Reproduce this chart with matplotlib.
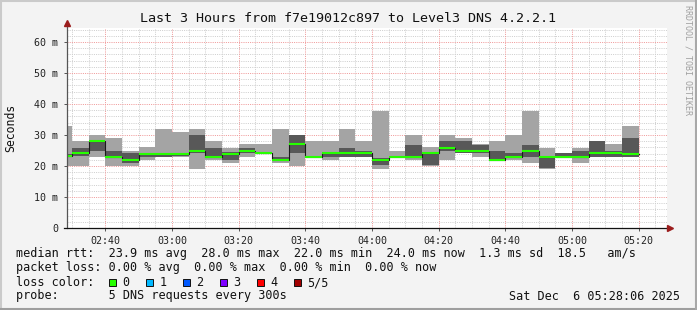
import matplotlib.pyplot as plt
import numpy as np
from matplotlib.patches import Rectangle

# ---- data (ms), one entry per 5 min step, first step is 02:25-02:30 ----
slot_start = np.arange(25, 200, 5)     # minutes after 02:00
ping_lo  = [20.0, 20.0, 23.0, 20.0, 20.0, 21.9, 23.0, 23.0, 19.0, 21.9, 21.1, 23.0, 23.9, 21.1, 20.0, 23.0, 21.9, 23.0,
            23.0, 19.0, 23.0, 21.9, 20.0, 21.9, 24.1, 23.0, 21.9, 21.9, 21.1, 19.0, 23.0, 21.1, 23.0, 23.0, 23.0]
ping_hi  = [32.9, 28.1, 30.0, 29.0, 24.8, 26.2, 31.9, 31.0, 31.9, 28.1, 25.7, 27.1, 27.1, 31.9, 30.0, 28.1, 28.1, 31.9,
            28.1, 37.8, 24.8, 30.0, 26.2, 30.0, 29.0, 27.1, 28.1, 30.0, 37.8, 25.7, 24.1, 25.9, 28.1, 27.1, 32.9]
inner_lo = [23.0, 23.2, 24.8, 23.0, 21.1, 23.0, 23.0, 23.3, 24.3, 23.0, 21.9, 24.1, 23.9, 21.9, 24.1, 23.0, 23.0, 23.0,
            23.0, 20.3, 23.0, 23.0, 20.3, 24.8, 24.1, 24.1, 21.9, 22.5, 23.0, 19.5, 23.0, 23.0, 23.0, 23.0, 23.0]
inner_hi = [24.0, 25.9, 27.8, 24.8, 24.1, 24.1, 24.1, 24.3, 30.0, 25.9, 24.6, 25.7, 24.1, 23.0, 30.0, 23.0, 24.1, 25.7,
            24.8, 22.7, 23.0, 26.8, 24.1, 28.1, 28.1, 26.8, 24.8, 24.1, 26.8, 23.0, 24.1, 24.8, 28.1, 24.8, 29.0]
median   = [23.2, 24.1, 28.0, 23.0, 22.0, 24.0, 24.0, 24.0, 24.8, 23.0, 24.0, 24.9, 24.1, 22.0, 27.0, 23.0, 24.1, 24.1,
            24.1, 22.0, 23.0, 23.0, 24.1, 25.9, 24.8, 24.8, 21.9, 23.0, 24.8, 23.0, 23.0, 23.0, 24.1, 24.1, 24.0]

tick_pos = [40, 60, 80, 100, 120, 140, 160, 180, 200]
tick_lab = ['02:40', '03:00', '03:20', '03:40', '04:00', '04:20', '04:40', '05:00', '05:20']

title = 'Last 3 Hours from f7e19012c897 to Level3 DNS 4.2.2.1'
legend_lines = ['median rtt:  23.9 ms avg  28.0 ms max  22.0 ms min  24.0 ms now  1.3 ms sd  18.5   am/s',
                'packet loss: 0.00 % avg  0.00 % max  0.00 % min  0.00 % now',
                'loss color:',
                'probe:       5 DNS requests every 300s']
loss_labels = ['0', '1', '2', '3', '4', '5/5']
loss_colors = ['#26ff00', '#00b8ff', '#0059ff', '#7e00ff', '#ff0000', '#a10000']
stamp = 'Sat Dec  6 05:28:06 2025'

plt.rcParams['font.family'] = ['DejaVu Sans Mono']
W, H = 697, 310
fig = plt.figure(figsize=(W / 100, H / 100), dpi=100, facecolor='#f3f3f3')

# plot area in pixels: x 67..667, y 28..228
ax = fig.add_axes([67 / W, (H - 228) / H, 600 / W, 200 / H])
ax.set_facecolor('white')
x0, x1 = 28.5, 208.5
ymax = 64.5
ax.set_xlim(x0, x1)
ax.set_ylim(0, ymax)

# grid
for v in np.arange(2, ymax, 2):
    if v % 10:
        ax.axhline(v, color='#cfcfcf', lw=0.72, dashes=(1, 1.2), zorder=0)
for t in np.arange(30, x1, 5):
    if t % 20:
        ax.axvline(t, color='#cfcfcf', lw=0.72, dashes=(1, 1.2), zorder=0)
for v in range(10, 70, 10):
    ax.axhline(v, color='#f09a9a', lw=0.72, dashes=(1, 1.2), zorder=0.5)
for t in tick_pos:
    ax.axvline(t, color='#f09a9a', lw=0.72, dashes=(1, 1.2), zorder=0.5)

lo = np.array(ping_lo)
hi = np.array(ping_hi)
ilo = np.array(inner_lo)
ihi = np.array(inner_hi)
med = np.array(median)

# smoke
ax.bar(slot_start, hi - lo, bottom=lo, width=5, align='edge', color='#a4a4a4', linewidth=0, zorder=1)
ax.bar(slot_start, ihi - ilo, bottom=ilo, width=5, align='edge', color='#585858', linewidth=0, zorder=2)

# median
ax.step(np.append(slot_start, slot_start[-1] + 5), np.append(med, med[-1]), where='post',
        color='#1a1a1a', lw=0.8, zorder=3)
ax.hlines(med, slot_start, slot_start + 5, color='#26ff00', lw=1.5, zorder=4)

for s in ax.spines.values():
    s.set_visible(False)

# axes lines with arrows
ax.plot([x0, x0], [0, ymax + 1.6], color='#555555', lw=0.9, clip_on=False, zorder=5)
ax.plot([x0], [ymax + 1.6], marker='^', ms=5, color='#9b1c1c', clip_on=False, zorder=6)
ax.plot([x0 - 1.0, x1 + 0.8], [0, 0], color='#111111', lw=0.9, clip_on=False, zorder=5)
ax.plot([x1 + 0.8], [0], marker='>', ms=5, color='#9b1c1c', clip_on=False, zorder=6)

ax.set_yticks(range(0, 70, 10))
ax.set_yticklabels(['0'] + ['%d m' % v for v in range(10, 70, 10)])
ax.set_xticks(tick_pos)
ax.set_xticklabels(tick_lab)
ax.tick_params(axis='both', length=2.5, width=0.7, color='#555555', labelsize=7.2, labelcolor='#222222')
ax.tick_params(axis='y', pad=4)
ax.tick_params(axis='x', pad=3)

# overlay in pixel coordinates
ov = fig.add_axes([0, 0, 1, 1])
ov.set_xlim(0, W)
ov.set_ylim(H, 0)
ov.axis('off')
ov.patch.set_alpha(0)

ov.plot([0, W], [1, 1], color='#cacaca', lw=1.5)
ov.plot([1, 1], [0, H], color='#cacaca', lw=1.5)
ov.plot([0, W], [H - 1, H - 1], color='#9e9e9e', lw=1.5)
ov.plot([W - 1, W - 1], [0, H], color='#a8a8a8', lw=1.5)

ov.text(348, 18, title, ha='center', va='center', fontsize=9.6, color='#111111')
ov.text(11, 128, 'Seconds', rotation=90, ha='center', va='center', fontsize=8.3, color='#111111')
ov.text(688, 60, 'RRDTOOL / TOBI OETIKER', rotation=-90, ha='center', va='center', fontsize=6, color='#a0a0a0')

for i, line in enumerate(legend_lines):
    ov.text(16, 254 + 14 * i, line, ha='left', va='center', fontsize=8.5, color='#111111')
ov.text(680, 296, stamp, ha='right', va='center', fontsize=8.5, color='#111111')

for i, (lab, col) in enumerate(zip(loss_labels, loss_colors)):
    bx = 108.5 + 37 * i
    ov.add_patch(Rectangle((bx, 278.5), 7.5, 7.5, facecolor=col, edgecolor='#111111', lw=0.7))
    ov.text(bx + 14, 282.5, lab, ha='left', va='center', fontsize=8.5, color='#111111')

fig.savefig('out.png', dpi=100, facecolor=fig.get_facecolor())
